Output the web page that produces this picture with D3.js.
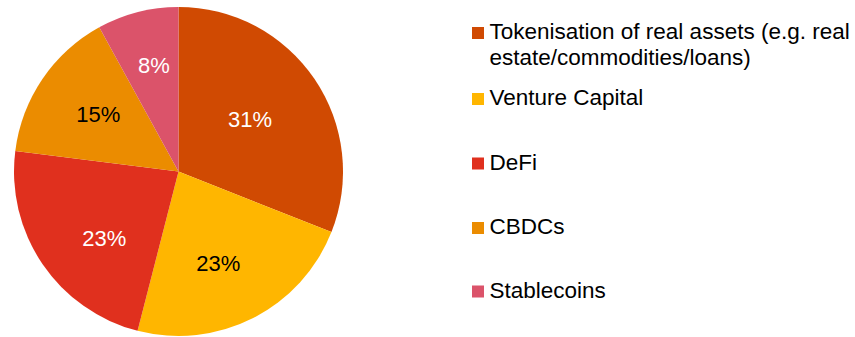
<!DOCTYPE html>
<html>
<head>
<meta charset="utf-8">
<script src="https://cdn.jsdelivr.net/npm/d3@7"></script>
<style>
  html, body { margin: 0; padding: 0; background: #fff; }
  svg { display: block; font-family: "Liberation Sans", Arial, sans-serif; }
</style>
</head>
<body>
<svg id="chart" width="855" height="337"></svg>
<script>
// Share of allocation by segment (percent)
const categories = [
  "Tokenisation of real assets (e.g. real estate/commodities/loans)",
  "Venture Capital",
  "DeFi",
  "CBDCs",
  "Stablecoins"
];
const values = [31, 23, 23, 15, 8];
const colors = ["#D04A02", "#FFB600", "#E0301E", "#EB8C00", "#DB536A"];
const labelColors = ["#ffffff", "#000000", "#ffffff", "#000000", "#ffffff"];
// Legend text broken into lines
const legendLines = [
  ["Tokenisation of real assets (e.g. real", "estate/commodities/loans)"],
  ["Venture Capital"],
  ["DeFi"],
  ["CBDCs"],
  ["Stablecoins"]
];
// Small hand nudges (px) applied to the percentage labels after centroid placement
const labelNudge = [[-10, 3], [-5, 3.5], [7.5, 11], [1.5, -1.5], [0, -10.5]];

const svg = d3.select("#chart");
const cx = 178.5, cy = 171.5, r = 164.5;

const data = categories.map((c, i) => ({ name: c, value: values[i], i }));

const pie = d3.pie().value(d => d.value).sort(null);
const arc = d3.arc().innerRadius(0).outerRadius(r);
const labelArc = d3.arc().innerRadius(r * 0.6).outerRadius(r * 0.6);

const g = svg.append("g").attr("transform", `translate(${cx},${cy})`);
const arcs = pie(data);

g.selectAll("path.slice")
  .data(arcs)
  .join("path")
  .attr("class", "slice")
  .attr("d", arc)
  .attr("fill", d => colors[d.data.i]);

g.selectAll("text.pct")
  .data(arcs)
  .join("text")
  .attr("class", "pct")
  .attr("transform", d => {
    const [x, y] = labelArc.centroid(d);
    const [nx, ny] = labelNudge[d.data.i];
    return `translate(${x + nx},${y + ny})`;
  })
  .attr("text-anchor", "middle")
  .attr("dy", "0.36em")
  .attr("font-size", 22)
  .attr("fill", d => labelColors[d.data.i])
  .text(d => d.data.value + "%");

// Legend
const legendX = 472, textX = 489.5, lineH = 26.4;
const legendBaselines = [39, 105, 169.5, 234, 297.5];
const legend = svg.append("g");
const items = legend.selectAll("g.item")
  .data(data)
  .join("g")
  .attr("class", "item")
  .attr("transform", d => `translate(0,${legendBaselines[d.i]})`);

items.append("rect")
  .attr("x", legendX)
  .attr("y", -12)
  .attr("width", 12)
  .attr("height", 12)
  .attr("fill", d => colors[d.i]);

items.append("text")
  .attr("font-size", 22.5)
  .attr("fill", "#000")
  .selectAll("tspan")
  .data(d => legendLines[d.i])
  .join("tspan")
  .attr("x", textX)
  .attr("y", (d, k) => k * lineH)
  .text(d => d);
</script>
</body>
</html>
